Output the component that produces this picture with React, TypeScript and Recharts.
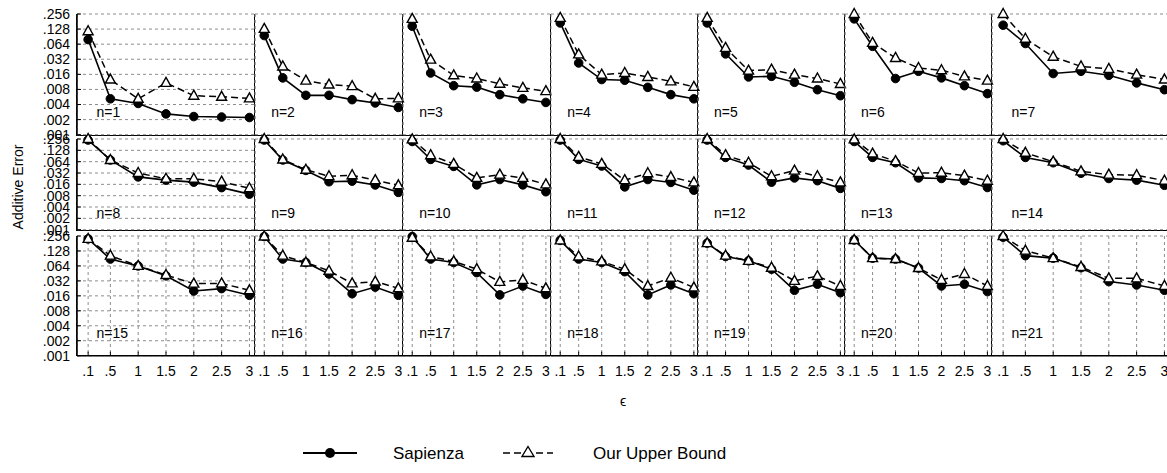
import React from 'react'
import { LineChart, Line, XAxis, YAxis, CartesianGrid, ReferenceDot } from 'recharts'

const epsilons = [0.1, 0.5, 1, 1.5, 2, 2.5, 3]
const xTickLabels = ['.1', '.5', '1', '1.5', '2', '2.5', '3']
const yTicks = [0.001, 0.002, 0.004, 0.008, 0.016, 0.032, 0.064, 0.128, 0.256]
const yTickLabels = ['.001', '.002', '.004', '.008', '.016', '.032', '.064', '.128', '.256']
const panelNames = [
  'n=1', 'n=2', 'n=3', 'n=4', 'n=5', 'n=6', 'n=7',
  'n=8', 'n=9', 'n=10', 'n=11', 'n=12', 'n=13', 'n=14',
  'n=15', 'n=16', 'n=17', 'n=18', 'n=19', 'n=20', 'n=21',
]

// one row per panel, one value per epsilon
const sapienza = [
  [0.079, 0.0052, 0.0042, 0.0026, 0.0023, 0.00225, 0.0022],
  [0.095, 0.0136, 0.0061, 0.0061, 0.005, 0.0043, 0.0035],
  [0.146, 0.017, 0.0095, 0.0089, 0.0063, 0.0052, 0.0044],
  [0.17, 0.027, 0.0126, 0.0122, 0.0088, 0.0063, 0.0052],
  [0.17, 0.041, 0.0142, 0.0146, 0.0111, 0.0079, 0.006],
  [0.205, 0.058, 0.0132, 0.0184, 0.0136, 0.0095, 0.0066],
  [0.153, 0.066, 0.0166, 0.0184, 0.0153, 0.0108, 0.0079],
  [0.24, 0.071, 0.0252, 0.0207, 0.0183, 0.0131, 0.0088],
  [0.24, 0.071, 0.0375, 0.0188, 0.0195, 0.0154, 0.0098],
  [0.22, 0.0735, 0.048, 0.0155, 0.0215, 0.0155, 0.0102],
  [0.24, 0.0735, 0.049, 0.0137, 0.0215, 0.018, 0.0112],
  [0.24, 0.083, 0.052, 0.0183, 0.0237, 0.02, 0.0125],
  [0.22, 0.083, 0.06, 0.0237, 0.0229, 0.02, 0.0132],
  [0.23, 0.083, 0.06, 0.0315, 0.0229, 0.0207, 0.0151],
  [0.224, 0.088, 0.064, 0.0405, 0.02, 0.0224, 0.0164],
  [0.25, 0.088, 0.075, 0.044, 0.0177, 0.024, 0.0164],
  [0.25, 0.088, 0.075, 0.047, 0.0167, 0.0252, 0.0171],
  [0.209, 0.088, 0.075, 0.049, 0.0167, 0.0265, 0.0177],
  [0.184, 0.099, 0.081, 0.055, 0.0207, 0.0274, 0.0185],
  [0.213, 0.092, 0.088, 0.058, 0.0253, 0.0274, 0.0195],
  [0.242, 0.103, 0.092, 0.059, 0.031, 0.0265, 0.0207],
]

const upperBound = [
  [0.116, 0.0126, 0.0052, 0.0108, 0.006, 0.0057, 0.0053],
  [0.129, 0.023, 0.012, 0.01, 0.0093, 0.0052, 0.0053],
  [0.205, 0.0315, 0.0153, 0.0132, 0.0104, 0.0086, 0.0074],
  [0.214, 0.04, 0.0158, 0.017, 0.0142, 0.0116, 0.009],
  [0.214, 0.054, 0.019, 0.0199, 0.0158, 0.0132, 0.0103],
  [0.256, 0.068, 0.034, 0.0214, 0.0193, 0.0146, 0.012],
  [0.256, 0.082, 0.036, 0.023, 0.0205, 0.0158, 0.0126],
  [0.256, 0.071, 0.032, 0.0225, 0.0225, 0.0188, 0.0126],
  [0.256, 0.073, 0.039, 0.0262, 0.028, 0.0207, 0.0151],
  [0.25, 0.095, 0.056, 0.0237, 0.0289, 0.0237, 0.016],
  [0.256, 0.086, 0.056, 0.0207, 0.0315, 0.025, 0.018],
  [0.256, 0.095, 0.06, 0.0262, 0.037, 0.0262, 0.018],
  [0.25, 0.105, 0.066, 0.032, 0.0325, 0.0273, 0.02],
  [0.256, 0.11, 0.064, 0.0353, 0.0289, 0.028, 0.02],
  [0.224, 0.103, 0.064, 0.042, 0.0282, 0.0285, 0.0207],
  [0.25, 0.103, 0.075, 0.051, 0.0285, 0.031, 0.0227],
  [0.236, 0.099, 0.079, 0.055, 0.0305, 0.0335, 0.0227],
  [0.209, 0.099, 0.079, 0.055, 0.0252, 0.037, 0.0235],
  [0.184, 0.103, 0.081, 0.059, 0.032, 0.04, 0.0253],
  [0.213, 0.092, 0.088, 0.058, 0.0335, 0.044, 0.0253],
  [0.256, 0.13, 0.092, 0.061, 0.036, 0.036, 0.0253],
]

// panel grid geometry (page px)
const colLeft = [77, 255, 403, 550.5, 698, 845, 992]
const colWidth = [178, 148, 147.5, 147.5, 147, 147, 178]
const rowTop = [14.3, 139.3, 236]
const rowHeight = [120.7, 90.7, 119.7]
const Y_AXIS_W = 77
const X_AXIS_H = 30
const FONT = '"Liberation Sans", Arial, Helvetica, sans-serif'

const Triangle = (props: any) => {
  const { cx, cy, index } = props
  if (cx == null || cy == null) return <g key={index} />
  return (
    <path
      key={index}
      d={`M${cx},${cy - 5.5}L${cx + 5},${cy + 3.5}L${cx - 5},${cy + 3.5}Z`}
      fill="#fff"
      stroke="#000"
      strokeWidth={1.4}
    />
  )
}

function Panel({ i }: { i: number }) {
  const row = Math.floor(i / 7)
  const col = i % 7
  const showY = col === 0
  const showX = row === 2
  const yW = showY ? Y_AXIS_W : 0
  const xH = showX ? X_AXIS_H : 0
  const data = epsilons.map((e, k) => ({ e, s: sapienza[i][k], u: upperBound[i][k] }))
  const tickStyle = { fontSize: 14, fill: '#000', fontFamily: FONT }

  return (
    <>
      {/* solid left / bottom frame of the panel */}
      <div
        style={{
          position: 'absolute',
          left: colLeft[col] - 0.75,
          top: rowTop[row],
          width: colWidth[col],
          height: rowHeight[row] + 0.75,
          boxSizing: 'border-box',
          borderLeft: '1.5px solid #000',
          borderBottom: '1.5px solid #000',
        }}
      />
      <div style={{ position: 'absolute', left: colLeft[col] - yW, top: rowTop[row] }}>
        <LineChart
          width={colWidth[col] + yW}
          height={rowHeight[row] + xH}
          data={data}
          margin={{ top: 0, right: 0, bottom: 0, left: 0 }}
        >
          <CartesianGrid stroke="#8c8c8c" strokeDasharray="3 3" />
          <XAxis
            dataKey="e"
            type="number"
            domain={[-0.1, 3.1]}
            ticks={epsilons}
            interval={0}
            tickFormatter={(v: number) => xTickLabels[epsilons.indexOf(v)]}
            height={xH}
            tick={showX ? tickStyle : false}
            tickSize={-4}
            tickMargin={14}
            axisLine={{ stroke: '#000', strokeWidth: 1.5 }}
            tickLine={{ stroke: '#000' }}
          />
          <YAxis
            type="number"
            scale="log"
            domain={[0.001, 0.256]}
            ticks={yTicks}
            interval={0}
            tickFormatter={(v: number) => yTickLabels[yTicks.indexOf(v)]}
            width={yW}
            tick={showY ? tickStyle : false}
            tickSize={-4}
            tickMargin={11}
            axisLine={{ stroke: '#000', strokeWidth: 1.5 }}
            tickLine={{ stroke: '#000' }}
          />
          <Line
            dataKey="s"
            stroke="#000"
            strokeWidth={1.6}
            dot={{ r: 4.3, fill: '#000', stroke: '#000', strokeWidth: 1 }}
            isAnimationActive={false}
          />
          <Line
            dataKey="u"
            stroke="#000"
            strokeWidth={1.5}
            strokeDasharray="7 4"
            dot={Triangle}
            isAnimationActive={false}
          />
          <ReferenceDot
            x={0.25}
            y={0.0028}
            r={0}
            fill="none"
            stroke="none"
            label={{ value: panelNames[i], position: 'right', offset: 0, fontSize: 14, fill: '#000', fontFamily: FONT }}
          />
        </LineChart>
      </div>
    </>
  )
}

export default function App() {
  return (
    <div
      style={{
        position: 'absolute',
        left: 0,
        top: 0,
        width: 1167,
        height: 473,
        overflow: 'hidden',
        background: '#fff',
        fontFamily: FONT,
      }}
    >
      <style>{'.recharts-surface{overflow:visible}'}</style>
      {panelNames.map((_, i) => (
        <Panel key={i} i={i} />
      ))}
      <svg
        width={1167}
        height={473}
        style={{ position: 'absolute', left: 0, top: 0, pointerEvents: 'none' }}
      >
        <text
          x={18}
          y={187}
          transform="rotate(-90 18 187)"
          textAnchor="middle"
          dominantBaseline="central"
          fontSize={14}
          fontFamily={FONT}
        >
          Additive Error
        </text>
        <text x={623} y={401} textAnchor="middle" dominantBaseline="central" fontSize={14} fontFamily={FONT}>
          ϵ
        </text>
        <line x1={303} x2={357} y1={453} y2={453} stroke="#000" strokeWidth={2} />
        <circle cx={330} cy={453} r={5} fill="#000" />
        <text x={393} y={453} dominantBaseline="central" fontSize={17} fontFamily={FONT}>
          Sapienza
        </text>
        <line x1={503} x2={553} y1={453} y2={453} stroke="#000" strokeWidth={1.5} strokeDasharray="7 4" />
        <path d="M528,446.5L534,456.5L522,456.5Z" fill="#fff" stroke="#000" strokeWidth={1.4} />
        <text x={593} y={453} dominantBaseline="central" fontSize={17} fontFamily={FONT}>
          Our Upper Bound
        </text>
      </svg>
    </div>
  )
}
